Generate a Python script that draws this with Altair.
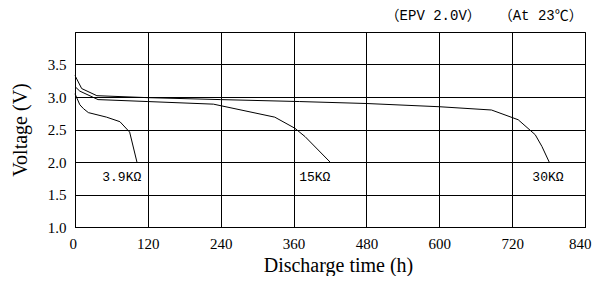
import altair as alt
import pandas as pd

# Discharge curves (time in hours, voltage in V)
t_39k = [0, 8, 14, 22, 52, 74, 90, 102]
v_39k = [3.05, 2.88, 2.82, 2.76, 2.69, 2.62, 2.46, 2.0]
t_15k = [0, 8, 38, 120, 228, 329, 362, 379, 420]
v_15k = [3.16, 3.09, 2.96, 2.93, 2.89, 2.69, 2.52, 2.39, 2.0]
t_30k = [0, 11, 36, 120, 240, 370, 480, 601, 686, 730, 758, 769, 781]
v_30k = [3.33, 3.13, 3.02, 2.99, 2.96, 2.93, 2.90, 2.85, 2.80, 2.65, 2.42, 2.24, 2.0]

series_names = ["3.9KΩ", "15KΩ", "30KΩ"]
label_t = [77, 395, 779]
label_v = [1.77, 1.77, 1.77]

note_text = ["（EPV 2.0V）", "（At 23℃）"]
note_t = [590, 767]
note_v = [4.25, 4.25]

x_ticks = [0, 120, 240, 360, 480, 600, 720, 840]
y_ticks = [1.0, 1.5, 2.0, 2.5, 3.0, 3.5]

rows = []
for name, ts, vs in zip(series_names, [t_39k, t_15k, t_30k], [v_39k, v_15k, v_30k]):
    for i, (t, v) in enumerate(zip(ts, vs)):
        rows.append({"series": name, "t": t, "v": v, "order": i})
curves = pd.DataFrame(rows)
labels = pd.DataFrame({"text": series_names, "t": label_t, "v": label_v})
notes = pd.DataFrame({"text": note_text, "t": note_t, "v": note_v})

xs = alt.Scale(domain=[0, 840], nice=False, zero=False)
ys = alt.Scale(domain=[1.0, 4.0], nice=False, zero=False)

lines = alt.Chart(curves).mark_line(color="black", strokeWidth=1).encode(
    x=alt.X("t:Q", scale=xs, title="Discharge time (h)",
            axis=alt.Axis(values=x_ticks, format="d", tickCount=20,
                          labelFlush=True, labelFlushOffset=6, titlePadding=4,
                          titleX=263)),
    y=alt.Y("v:Q", scale=ys, title="Voltage (V)",
            axis=alt.Axis(values=y_ticks, format=".1f", tickCount=20, titlePadding=17)),
    detail="series:N",
    order="order:Q",
)

lab = alt.Chart(labels).mark_text(
    font="Liberation Mono, Noto Sans CJK SC", fontSize=13, color="black"
).encode(x=alt.X("t:Q", scale=xs), y=alt.Y("v:Q", scale=ys), text="text:N")

note = alt.Chart(notes).mark_text(
    font="Liberation Mono, Noto Sans CJK SC", fontSize=14, color="black"
).encode(x=alt.X("t:Q", scale=xs), y=alt.Y("v:Q", scale=ys), text="text:N")

chart = alt.layer(lines, lab, note).properties(
    width=510, height=195,
    autosize=alt.AutoSizeParams(type="none"),
    padding={"left": 67, "top": 24, "right": 7, "bottom": 49},
).configure_view(
    stroke="black", strokeWidth=1
).configure_axis(
    domainColor="black", domainWidth=1,
    gridColor="black", gridOpacity=1, gridWidth=1,
    ticks=False,
    labelColor="black", labelFont="Liberation Serif", labelFontSize=15,
    labelPadding=9,
    titleColor="black", titleFont="Liberation Serif", titleFontSize=20,
    titleFontWeight="normal",
)

chart.save("out.html", embed_options={"renderer": "svg", "actions": False})
